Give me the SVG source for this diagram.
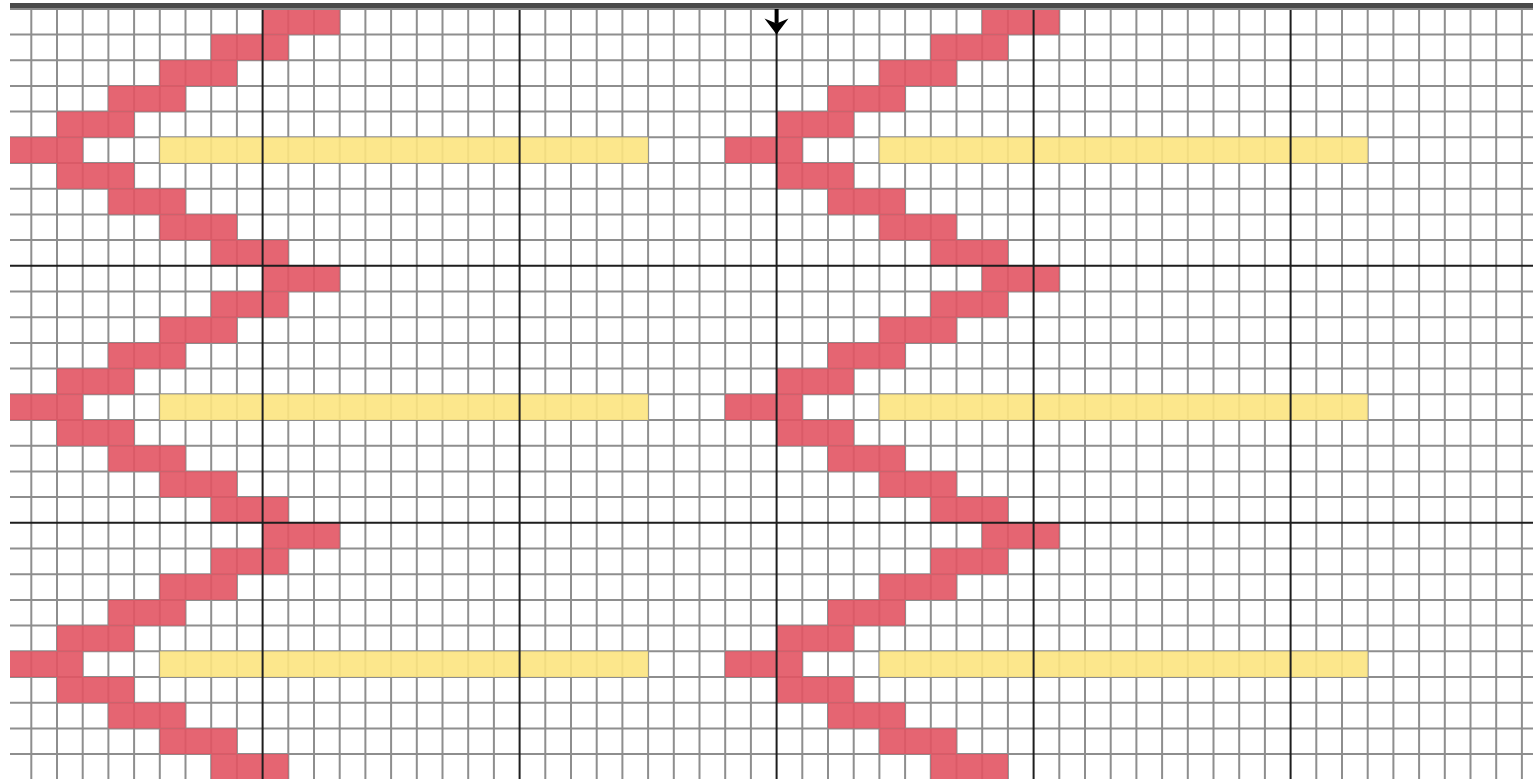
<svg xmlns="http://www.w3.org/2000/svg" xmlns:xlink="http://www.w3.org/1999/xlink" width="1533" height="779" viewBox="0 0 1533 779">
<style>
.minor{stroke:#8e8e8e;stroke-width:2;fill:none}
.major{stroke:#1e1e1e;stroke-width:2;fill:none}
.pink{fill:rgb(226,84,99);fill-opacity:0.9}
.yellow{fill:rgb(252,228,128);fill-opacity:0.9}
</style>
<defs>
<g id="block">
<rect class="pink" x="262.6" y="0" width="77.1" height="25.7"/>
<rect class="pink" x="211.2" y="25.7" width="77.1" height="25.7"/>
<rect class="pink" x="159.8" y="51.4" width="77.1" height="25.7"/>
<rect class="pink" x="108.4" y="77.1" width="77.1" height="25.7"/>
<rect class="pink" x="57.0" y="102.8" width="77.1" height="25.7"/>
<rect class="pink" x="5.6" y="128.5" width="77.1" height="25.7"/>
<rect class="yellow" x="159.8" y="128.5" width="488.3" height="25.7"/>
<rect class="pink" x="57.0" y="154.2" width="77.1" height="25.7"/>
<rect class="pink" x="108.4" y="179.9" width="77.1" height="25.7"/>
<rect class="pink" x="159.8" y="205.6" width="77.1" height="25.7"/>
<rect class="pink" x="211.2" y="231.3" width="77.1" height="25.7"/>
</g>
</defs>
<rect x="0" y="0" width="1533" height="779" fill="#ffffff"/>
<g id="minor-grid">
<path class="minor" d="M31.3 8V779M57.0 8V779M82.7 8V779M108.4 8V779M134.1 8V779M159.8 8V779M185.5 8V779M211.2 8V779M236.9 8V779M288.3 8V779M314.0 8V779M339.7 8V779M365.4 8V779M391.1 8V779M416.8 8V779M442.5 8V779M468.2 8V779M493.9 8V779M545.3 8V779M571.0 8V779M596.7 8V779M622.4 8V779M648.1 8V779M673.8 8V779M699.5 8V779M725.2 8V779M750.9 8V779M802.3 8V779M828.0 8V779M853.7 8V779M879.4 8V779M905.1 8V779M930.8 8V779M956.5 8V779M982.2 8V779M1007.9 8V779M1059.3 8V779M1085.0 8V779M1110.7 8V779M1136.4 8V779M1162.1 8V779M1187.8 8V779M1213.5 8V779M1239.2 8V779M1264.9 8V779M1316.3 8V779M1342.0 8V779M1367.7 8V779M1393.4 8V779M1419.1 8V779M1444.8 8V779M1470.5 8V779M1496.2 8V779M1521.9 8V779"/>
<path class="minor" d="M10 34.5H1533M10 60.2H1533M10 85.9H1533M10 111.6H1533M10 137.3H1533M10 163.0H1533M10 188.7H1533M10 214.4H1533M10 240.1H1533M10 291.5H1533M10 317.2H1533M10 342.9H1533M10 368.6H1533M10 394.3H1533M10 420.0H1533M10 445.7H1533M10 471.4H1533M10 497.1H1533M10 548.5H1533M10 574.2H1533M10 599.9H1533M10 625.6H1533M10 651.3H1533M10 677.0H1533M10 702.7H1533M10 728.4H1533M10 754.1H1533"/>
</g>
<g id="stitches">
<use xlink:href="#block" href="#block" transform="translate(0,8.8)"/>
<use xlink:href="#block" href="#block" transform="translate(0,265.8)"/>
<use xlink:href="#block" href="#block" transform="translate(0,522.8)"/>
<use xlink:href="#block" href="#block" transform="translate(719.6,8.8)"/>
<use xlink:href="#block" href="#block" transform="translate(719.6,265.8)"/>
<use xlink:href="#block" href="#block" transform="translate(719.6,522.8)"/>
</g>
<g id="major-grid">
<path class="major" d="M262.6 8V779M519.6 8V779M776.6 8V779M1033.6 8V779M1290.6 8V779M10 265.8H1533M10 522.8H1533"/>
</g>
<rect x="0" y="0" width="10" height="779" fill="#ffffff"/>
<g id="top-bar">
<rect x="10" y="3" width="1523" height="5" fill="#4a4a4a"/>
<rect x="10" y="8" width="1523" height="2" fill="#8a8a8a"/>
</g>
<g id="marker-arrow">
<rect x="774.6" y="9" width="4" height="14" fill="#000000"/>
<polygon points="764.5,18.5 776.6,23.5 788.5,18.5 779,31 776.6,35 774,31" fill="#000000"/>
</g>
</svg>
